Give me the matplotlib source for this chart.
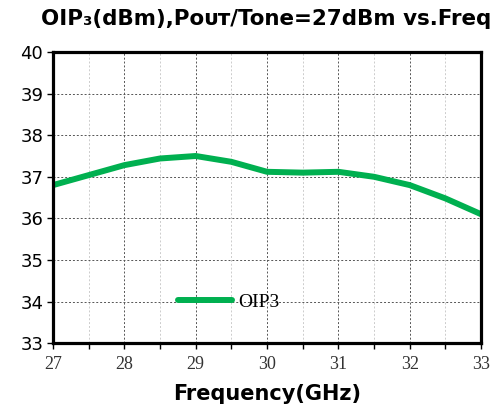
import matplotlib
matplotlib.use("Agg")
import matplotlib.pyplot as plt
from matplotlib.ticker import MultipleLocator

# data
freq = [27, 27.5, 28, 28.5, 29, 29.5, 30, 30.5, 31, 31.5, 32, 32.5, 33]
oip3 = [36.8, 37.04, 37.28, 37.44, 37.5, 37.36, 37.12, 37.1, 37.12, 37.0, 36.8, 36.48, 36.1]
x_ticks = [27, 28, 29, 30, 31, 32, 33]
y_ticks = [33, 34, 35, 36, 37, 38, 39, 40]

green = "#00B050"

fig = plt.figure(figsize=(4.95, 4.16), dpi=100)
ax = fig.add_axes([0.107, 0.175, 0.865, 0.70])

ax.plot(freq, oip3, color=green, lw=4.3, solid_capstyle="round",
        solid_joinstyle="round", label="OIP3")

ax.set_xlim(27, 33)
ax.set_ylim(33, 40)
ax.set_xticks(x_ticks)
ax.set_yticks(y_ticks)
ax.xaxis.set_minor_locator(MultipleLocator(0.5))

ax.grid(which="major", axis="both", color="#555555", ls=(0, (2, 2)), lw=0.7)
ax.grid(which="minor", axis="x", color="#cccccc", ls=(0, (2, 2)), lw=0.7)

for s in ax.spines.values():
    s.set_linewidth(2.3)
    s.set_color("black")

ax.tick_params(axis="y", which="major", direction="out", length=4, width=1,
               labelsize=13, pad=3)
ax.tick_params(axis="x", which="both", direction="out", length=4, width=1,
               labelsize=13, pad=5, labelcolor="#333333")
for lbl in ax.get_xticklabels():
    lbl.set_family("Liberation Serif")

ax.set_xlabel("Frequency(GHz)", fontsize=15, fontweight="bold", labelpad=8)

fig.text(0.537, 0.955, "OIP\u2083(dBm),P\u1d0f\u1d1c\u1d1b/Tone=27dBm vs.Freq",
         ha="center", va="center", fontsize=15.4, fontweight="bold")

ax.legend(loc="center left", bbox_to_anchor=(0.25, 0.14), frameon=False,
          handlelength=2.8, handletextpad=0.3,
          prop={"family": "Liberation Serif", "size": 14})

fig.savefig("out.png", dpi=100)
